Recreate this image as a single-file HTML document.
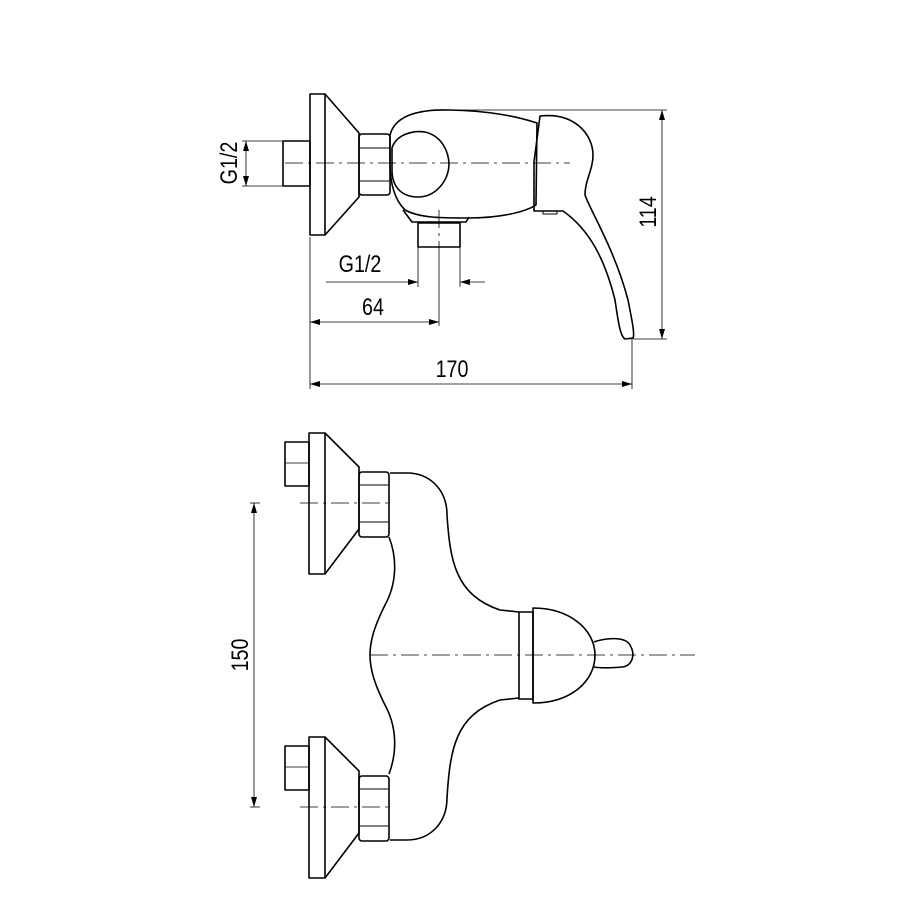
<!DOCTYPE html>
<html><head><style>body{margin:0;background:#fff}svg{display:block}</style></head><body>
<svg width="900" height="900" viewBox="0 0 900 900" xmlns="http://www.w3.org/2000/svg" font-family="Liberation Sans, sans-serif">
<defs>
<marker id="a" viewBox="0 0 10 6" refX="10" refY="3" markerWidth="10" markerHeight="6" orient="auto-start-reverse" markerUnits="userSpaceOnUse"><path d="M0,0L10,3L0,6z" fill="#000"/></marker>
</defs>
<g fill="none" stroke="#000" stroke-width="1.6" stroke-linejoin="round">
<!-- TOP VIEW -->
<rect x="310" y="94" width="15" height="141"/>
<path d="M325,94L359,133L359,197L325,235"/>
<rect x="283" y="141" width="27" height="45"/>
<rect x="359" y="134" width="31" height="61" rx="3"/>
<line x1="360" y1="148" x2="389" y2="148" stroke-width="1"/>
<line x1="360" y1="181" x2="389" y2="181" stroke-width="1"/>
<!-- body -->
<path d="M390,135C395,115 420,109 450,110C490,111 515,116 537,123L536,205C525,212 500,218 470,218C440,218 420,218 405,210C395,200 390,185 390,163Z"/>
<path d="M392,148C396,135 412,130 425,132C442,136 449,152 449,165C448,182 435,197 418,197C400,197 392,185 392,170Z"/>
<path d="M403,210L412,222L466,222L469,217"/>
<rect x="418" y="223" width="42" height="24"/>
<!-- lever -->
<path d="M540,116C575,112 593,135 593,155C593,170 585,180 585,195C590,210 615,250 628,300C632,320 635,335 633,338L625,339C620,336 618,320 615,300C605,260 590,230 563,211L534,211L534,162Z"/>
<rect x="543" y="211" width="14" height="3" stroke-width="1"/>
</g>
<g stroke="#000" stroke-width="0.8" fill="none" stroke-dasharray="18,5,3,5">
<line x1="285" y1="163" x2="570" y2="163"/>
<line x1="439" y1="210" x2="439" y2="250"/>
</g>
<g stroke="#000" stroke-width="0.8" fill="none">
<line x1="242" y1="141" x2="283" y2="141"/><line x1="242" y1="186" x2="283" y2="186"/>
<line x1="246" y1="141" x2="246" y2="186" marker-start="url(#a)" marker-end="url(#a)"/>
<line x1="418" y1="247" x2="418" y2="287"/><line x1="460" y1="247" x2="460" y2="287"/>
<line x1="326" y1="282" x2="418" y2="282" marker-end="url(#a)"/>
<line x1="485" y1="282" x2="460" y2="282" marker-end="url(#a)"/>
<line x1="439" y1="250" x2="439" y2="326"/>
<line x1="310" y1="322" x2="439" y2="322" marker-start="url(#a)" marker-end="url(#a)"/>
<line x1="310" y1="237" x2="310" y2="389"/><line x1="632" y1="340" x2="632" y2="389"/>
<line x1="310" y1="384" x2="632" y2="384" marker-start="url(#a)" marker-end="url(#a)"/>
<line x1="440" y1="110" x2="667" y2="110"/><line x1="630" y1="339" x2="667" y2="339"/>
<line x1="662" y1="110" x2="662" y2="339" marker-start="url(#a)" marker-end="url(#a)"/>
<line x1="254" y1="503" x2="254" y2="807" marker-start="url(#a)" marker-end="url(#a)"/>
<line x1="250" y1="503" x2="260" y2="503"/><line x1="250" y1="807" x2="260" y2="807"/>
</g>
<g font-size="24" fill="#000">
<text transform="translate(237,163) rotate(-90) scale(0.82,1)" text-anchor="middle">G1/2</text>
<text transform="translate(360,272) scale(0.82,1)" text-anchor="middle">G1/2</text>
<text transform="translate(373,315) scale(0.82,1)" text-anchor="middle">64</text>
<text transform="translate(452,377) scale(0.82,1)" text-anchor="middle">170</text>
<text transform="translate(656,212) rotate(-90) scale(0.82,1)" text-anchor="middle">114</text>
<text transform="translate(248,655) rotate(-90) scale(0.82,1)" text-anchor="middle">150</text>
</g>
<!-- BOTTOM VIEW -->
<g fill="none" stroke="#000" stroke-width="1.6" stroke-linejoin="round">
<g id="fl">
<rect x="309" y="433" width="16" height="141"/>
<path d="M325,433L359,467L359,529L325,574"/>
<rect x="285" y="442" width="24" height="44"/>
<line x1="285" y1="463" x2="309" y2="463" stroke-width="0.8"/>
<rect x="359" y="472" width="30" height="65" rx="3"/>
<line x1="360" y1="485" x2="388" y2="485" stroke-width="1"/>
<line x1="360" y1="522" x2="388" y2="522" stroke-width="1"/>
</g>
<use href="#fl" transform="translate(0,304)"/>
<path d="M390,473L407,473C430,473 447,490 447,515C450,560 455,595 500,610L519,612"/>
<path d="M390,840L407,840C430,840 447,823 447,798C450,750 455,715 500,700L519,698"/>
<path d="M389,537C398,560 396,585 385,605C375,625 370,640 370,655C370,670 375,685 385,705C396,725 398,750 389,774"/>
<rect x="519" y="612" width="14" height="87"/>
<path d="M533,608C570,608 595,630 595,655C595,682 570,703 533,703Z"/>
<path d="M594,642C605,638 625,636 630,645C636,655 632,666 622,667C610,668 600,668 594,667"/>
</g>
<g stroke="#000" stroke-width="0.8" fill="none" stroke-dasharray="18,5,3,5">
<line x1="300" y1="503" x2="389" y2="503"/>
<line x1="300" y1="807" x2="389" y2="807"/>
<line x1="370" y1="655" x2="695" y2="655"/>
</g>
</svg>
</body></html>
